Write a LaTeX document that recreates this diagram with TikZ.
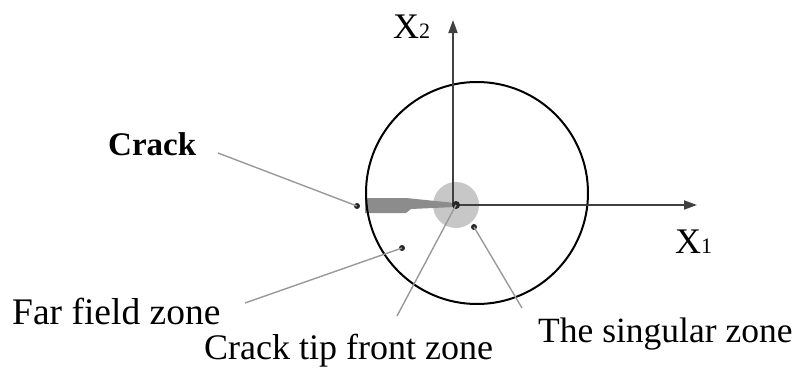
\documentclass[tikz,border=0pt]{standalone}
\usepackage{fontspec}
\setmainfont{Liberation Serif}
\usetikzlibrary{arrows.meta}
\begin{document}
\begin{tikzpicture}[x=1pt,y=-1pt,
 lbl/.style={anchor=base west,inner sep=0pt,font=\fontsize{36}{40}\selectfont},
 boldlbl/.style={anchor=base west,inner sep=0pt,font=\fontsize{33}{38}\selectfont\bfseries},
 leader/.style={draw=black!40,line width=1.4pt},
 axisline/.style={draw=black!75,line width=1.8pt,-{Triangle[length=13pt,width=9pt]}},
 dotn/.style={circle,fill=black!85,inner sep=0pt,minimum size=6pt}]
\useasboundingbox (0,0) rectangle (801,372);
\newcommand{\smallidx}[1]{{\fontsize{22}{24}\selectfont #1}}
% zones
\fill[black!22] (456,205) circle (23);
\fill[black!45] (365,198) -- (406,198) -- (455,203) -- (455,207) -- (411,209) -- (406,213) -- (365,213) -- cycle;
\draw[line width=2pt] (477,193) circle (111);
% axes
\coordinate (O) at (453,205);
\coordinate (x2end) at (453,20);
\coordinate (x1end) at (697,205);
\draw[axisline] (O) -- (x2end);
\draw[axisline] (O) -- (x1end);
\node[lbl] (x2) at (393,38) {X\smallidx{2}};
\node[lbl] (x1) at (675,253) {X\smallidx{1}};
% dots
\node[dotn] (crackdot) at (357,206) {};
\node[dotn] (fardot) at (402,248) {};
\node[dotn] (singdot) at (474,227) {};
\node[dotn,minimum size=8pt] (tipdot) at (456,205) {};
% labels
\node[boldlbl] (crack) at (108,155) {Crack};
\node[lbl,font=\fontsize{37.5}{40}\selectfont] (far) at (12,324) {Far field zone};
\node[lbl] (tip) at (204,359) {Crack tip front zone};
\node[lbl,font=\fontsize{35.5}{40}\selectfont] (sing) at (538,342) {The singular zone};
% leader ends
\coordinate (crackL) at (218,153);
\coordinate (farL) at (245,303);
\coordinate (tipL) at (397,316);
\coordinate (singL) at (522,308);
\draw[leader] (crackL) -- (crackdot.center);
\draw[leader] (farL) -- (fardot.center);
\draw[leader] (tipdot.center) -- (tipL);
\draw[leader] (singdot.center) -- (singL);
\end{tikzpicture}
\end{document}
